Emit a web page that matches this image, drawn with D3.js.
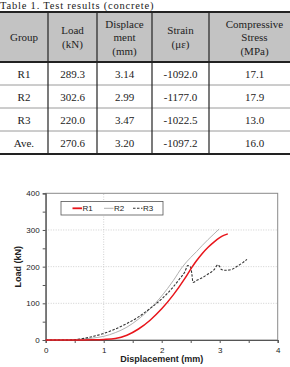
<!DOCTYPE html>
<html>
<head>
<meta charset="utf-8">
<script src="https://cdn.jsdelivr.net/npm/d3@7"></script>
<style>
  body { margin: 0; background: #fff; }
  svg { display: block; }
</style>
</head>
<body>
<svg id="fig" width="290" height="367"></svg>
<script>
// table values
const headers = [["Group"], ["Load", "(kN)"], ["Displace", "ment", "(mm)"], ["Strain", "(\u03bc\u03b5)"], ["Compressive", "Stress", "(MPa)"]];
const groups = ["R1", "R2", "R3", "Ave."];
const loads = [289.3, 302.6, 220.0, 270.6];
const displs = [3.14, 2.99, 3.47, 3.20];
const strains = [-1092.0, -1177.0, -1022.5, -1097.2];
const stresses = [17.1, 17.9, 13.0, 16.0];

// curves
const r1Disp = [0, 0.5, 0.8, 1.0, 1.2, 1.4, 1.6, 1.8, 2.0, 2.2, 2.4, 2.52, 2.6, 2.7, 2.8, 2.9, 3.0, 3.08, 3.14];
const r1Load = [0, 0, 0.5, 1.5, 4, 13, 30, 54, 85, 123, 168, 198, 216, 236, 253, 267, 279, 286, 289.3];
const r2Disp = [0, 0.4, 0.6, 0.8, 1.0, 1.2, 1.4, 1.6, 1.8, 2.0, 2.2, 2.36, 2.5, 2.6, 2.7, 2.8, 2.9, 2.99];
const r2Load = [0, 0.5, 2, 5, 10, 20, 35, 57, 85, 120, 162, 200, 225, 241, 258, 274, 289, 302.6];
const r3Disp = [0, 0.4, 0.6, 0.8, 1.0, 1.2, 1.4, 1.6, 1.8, 2.0, 2.2, 2.3, 2.4, 2.45, 2.5, 2.52, 2.54, 2.6, 2.7, 2.8, 2.9, 2.97, 3.0, 3.03, 3.1, 3.2, 3.3, 3.4, 3.47];
const r3Load = [0, 0, 3, 9, 18, 30, 45, 63, 86, 112, 145, 165, 186, 203, 198, 180, 157, 162, 170, 180, 191, 205, 200, 192, 190, 192, 201, 211, 220];

const xTicks = [0, 1, 2, 3, 4];
const yTicks = [0, 100, 200, 300, 400];
const seriesNames = ["R1", "R2", "R3"];

const svg = d3.select("#fig");
const serif = "'Liberation Serif', 'Times New Roman', serif";
const sans = "'Liberation Sans', Arial, sans-serif";

// ---------- table ----------
svg.append("text")
  .attr("x", 0).attr("y", 9)
  .attr("font-family", serif).attr("font-size", 10.5)
  .attr("letter-spacing", 0.8)
  .attr("fill", "#222")
  .text("Table 1. Test results (concrete)");

const colEdges = [0, 48, 97, 152, 209, 300];
const colMid = d3.range(5).map(i => (colEdges[i] + colEdges[i + 1]) / 2);
const tTop = 12, hBottom = 62, rowH = 23;

svg.append("rect").attr("x", 0).attr("y", tTop).attr("width", 290).attr("height", hBottom - tTop)
  .attr("fill", "#c3c3c3");

const lineH = 13.5;
headers.forEach((lines, i) => {
  const cy = (tTop + hBottom) / 2;
  lines.forEach((t, j) => {
    svg.append("text")
      .attr("x", colMid[i]).attr("y", cy + (j - (lines.length - 1) / 2) * lineH + 4)
      .attr("text-anchor", "middle")
      .attr("font-family", serif).attr("font-size", 11).attr("fill", "#222")
      .text(t);
  });
});

const rows = groups.map((g, i) => [g, loads[i].toFixed(1), displs[i].toFixed(2), strains[i].toFixed(1), stresses[i].toFixed(1)]);
rows.forEach((r, i) => {
  const cy = hBottom + rowH * i + rowH / 2;
  r.forEach((t, j) => {
    svg.append("text")
      .attr("x", colMid[j]).attr("y", cy + 4)
      .attr("text-anchor", "middle")
      .attr("font-family", serif).attr("font-size", 11).attr("fill", "#222")
      .text(t);
  });
  if (i < rows.length - 1) {
    svg.append("line").attr("x1", 0).attr("x2", 290)
      .attr("y1", hBottom + rowH * (i + 1)).attr("y2", hBottom + rowH * (i + 1))
      .attr("stroke", "#9a9a9a").attr("stroke-width", 1);
  }
});
const tBottom = hBottom + rowH * rows.length;

colEdges.slice(1, 5).forEach(x => {
  svg.append("line").attr("x1", x).attr("x2", x).attr("y1", tTop).attr("y2", tBottom)
    .attr("stroke", "#222").attr("stroke-width", 1.2);
});
[tTop, hBottom, tBottom].forEach(y => {
  svg.append("line").attr("x1", 0).attr("x2", 290).attr("y1", y).attr("y2", y)
    .attr("stroke", "#222").attr("stroke-width", 2);
});

// ---------- chart ----------
const x = d3.scaleLinear().domain([0, 4]).range([45.7, 277.7]);
const y = d3.scaleLinear().domain([0, 400]).range([340, 193.3]);

const g = svg.append("g");

// gridlines
g.selectAll(".hgrid").data(yTicks.slice(1, 4)).enter().append("line")
  .attr("x1", x(0)).attr("x2", x(4))
  .attr("y1", d => y(d)).attr("y2", d => y(d))
  .attr("stroke", "#c4c4c4").attr("stroke-width", 0.8).attr("stroke-dasharray", "1,1.5");
g.append("line")
  .attr("x1", x(1)).attr("x2", x(1)).attr("y1", y(0)).attr("y2", y(400))
  .attr("stroke", "#c4c4c4").attr("stroke-width", 0.8).attr("stroke-dasharray", "1,1.5");

// frame
g.append("rect").attr("x", x(0)).attr("y", y(400))
  .attr("width", x(4) - x(0)).attr("height", y(0) - y(400))
  .attr("fill", "none").attr("stroke", "#8a8a8a").attr("stroke-width", 1);

// axes
const xAxis = g.append("g").attr("transform", `translate(0,${y(0)})`)
  .call(d3.axisBottom(x).tickValues(d3.range(0, 4.01, 0.5)).tickSize(3)
    .tickFormat(d => Number.isInteger(d) ? d : ""));
const yAxis = g.append("g").attr("transform", `translate(${x(0)},0)`)
  .call(d3.axisLeft(y).tickValues(d3.range(0, 401, 50)).tickSize(3)
    .tickFormat(d => d % 100 === 0 ? d : ""));
[xAxis, yAxis].forEach(a => {
  a.select(".domain").attr("stroke", "#555").attr("stroke-width", 1.2);
  a.selectAll(".tick line").attr("stroke", "#555");
  a.selectAll("text").attr("font-family", sans).attr("font-size", 8).attr("fill", "#222");
});
xAxis.selectAll("text").attr("dy", "0.9em");

g.append("text")
  .attr("x", (x(0) + x(4)) / 2).attr("y", 362)
  .attr("text-anchor", "middle")
  .attr("font-family", sans).attr("font-size", 9).attr("font-weight", "bold").attr("fill", "#222")
  .text("Displacement (mm)");
g.append("text")
  .attr("transform", `translate(21,${(y(0) + y(400)) / 2}) rotate(-90)`)
  .attr("text-anchor", "middle")
  .attr("font-family", sans).attr("font-size", 9).attr("font-weight", "bold").attr("fill", "#222")
  .text("Load (kN)");

// curves
const line = d3.line().x(d => x(d[0])).y(d => y(d[1])).curve(d3.curveMonotoneX);
const styles = [
  { color: "#e8151b", width: 1.5, dash: null },
  { color: "#a8a8a8", width: 0.9, dash: null },
  { color: "#333", width: 1.1, dash: "2.5,1.5" }
];
const series = [
  d3.zip(r1Disp, r1Load),
  d3.zip(r2Disp, r2Load),
  d3.zip(r3Disp, r3Load)
];
[1, 2, 0].forEach(i => {
  g.append("path").datum(series[i])
    .attr("d", line)
    .attr("fill", "none")
    .attr("stroke", styles[i].color)
    .attr("stroke-width", styles[i].width)
    .attr("stroke-dasharray", styles[i].dash);
});

// legend
const lg = g.append("g");
lg.append("rect").attr("x", 61).attr("y", 201.5).attr("width", 102).attr("height", 13.5)
  .attr("fill", "#fff").attr("stroke", "#555").attr("stroke-width", 0.8);
const legX = [72.5, 104, 133];
seriesNames.forEach((n, i) => {
  lg.append("line").attr("x1", legX[i]).attr("x2", legX[i] + 9.5)
    .attr("y1", 208.3).attr("y2", 208.3)
    .attr("stroke", styles[i].color).attr("stroke-width", i === 0 ? 1.8 : styles[i].width)
    .attr("stroke-dasharray", styles[i].dash);
  lg.append("text").attr("x", legX[i] + 10).attr("y", 211.2)
    .attr("font-family", sans).attr("font-size", 8).attr("fill", "#222")
    .text(n);
});
</script>
</body>
</html>
